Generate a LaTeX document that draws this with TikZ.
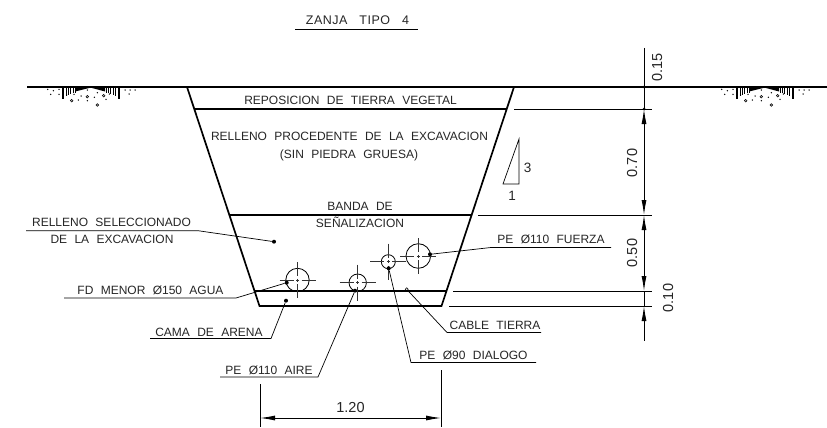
\documentclass[tikz,border=0pt]{standalone}
\usepackage{fontspec}
\setmainfont[WordSpace=2.2]{Liberation Sans}
\newfontfamily\titlefont[LetterSpace=4,WordSpace=3]{Liberation Sans}
\usetikzlibrary{arrows.meta}
\tikzset{
 x=1pt,y=-1pt,
 thickl/.style={line width=1.7pt,black},
 thinl/.style={line width=0.9pt,black},
 hair/.style={line width=0.7pt,black},
 lab/.style={font=\fontsize{12}{14}\selectfont,inner sep=0pt,anchor=base,text=black!85},
 dimlab/.style={font=\fontsize{14.5}{16}\selectfont,inner sep=0pt,anchor=base,text=black!85},
 dimarrow/.style={line width=0.9pt,{Latex[length=15pt,width=5pt]}-{Latex[length=15pt,width=5pt]}},
 dot/.style={circle,fill=black,inner sep=0pt,minimum size=4pt},
 center/.style={line width=0.7pt,black!80},
}
\newcommand{\pipecirc}[4]{% name x y r
 \node[circle,draw,line width=0.8pt,inner sep=0pt,minimum size=#4*2pt] (#1) at (#2,#3) {};
 \draw[center] (#2-18,#3) -- (#2-4,#3) (#2-1.5,#3) -- (#2+1.5,#3) (#2+4,#3) -- (#2+18,#3);
 \draw[center] (#2,#3-18) -- (#2,#3-4) (#2,#3-1.5) -- (#2,#3+1.5) (#2,#3+4) -- (#2,#3+18);
}
\newcommand{\groundsym}[1]{%
 \begin{scope}[shift={(#1,0)}]
 \fill (75,88) -- (89,88) -- (75,91.5) -- cycle;
 \fill (105,88) -- (92,88) -- (105,91.5) -- cycle;
 \foreach \x/\y in {62/99,63.5/99,66/96,68/95,70.5/94,73/93,75/92.5}{\draw[line width=0.6pt] (\x,88) -- (\x,\y);}
 \foreach \x/\y in {119.5/99,118/99,115.5/96,113/95,110.5/94,108/93,106/92.5}{\draw[line width=0.6pt] (\x,88) -- (\x,\y);}
 \foreach \x/\y in {47.7/89.3,53.3/90.7,59/89.3,50.7/94.3,59/94.3,66.7/95,74/94.3,81/96,87.3/90,97.3/92.7,94.3/97.3,87.3/100.7,78.3/100,106/99.3,109.3/94,125/90,130/90,135/90,129/94}{\fill (\x,\y) circle (0.75);}
 \foreach \x/\y in {71.7/100.7,87.3/96.7,103.7/95.7,97.3/105}{\draw[line width=0.6pt] (\x,\y) circle (1.3);}
 \end{scope}
}
\begin{document}
\begin{tikzpicture}
\useasboundingbox (0,0) rectangle (827,428);
\fill[white] (0,0) rectangle (827,428);
% title
\node[lab,font=\fontsize{12.5}{14}\titlefont] (title) at (357.5,24.5) {ZANJA TIPO 4};
\coordinate (tl) at (295,29); \coordinate (tr) at (418,29);
\draw[hair] (tl) -- (tr);
% ground
\coordinate (g1) at (27,87); \coordinate (g2) at (827,87);
\draw[thickl] (g1) -- (g2);
\groundsym{0}
\groundsym{674}
% trench
\coordinate (tA) at (187,87); \coordinate (tB) at (259.5,306); \coordinate (tC) at (441.5,306); \coordinate (tD) at (514,87);
\draw[thickl] (tA) -- (tB) -- (tC) -- (tD);
\draw[thickl] (194,109) -- (507,109);
\draw[thickl] (230,215) -- (471,215);
\draw[thickl] (255,291) -- (446,291);
% extension lines
\draw[thinl] (514,109) -- (652,109);
\draw[thinl] (478,215) -- (652,215);
\draw[thinl] (453,291) -- (652,291);
\draw[thinl] (449,306) -- (652,306);
% dims
\coordinate (d0) at (644,48); \coordinate (d1) at (644,87); \coordinate (d2) at (644,109); \coordinate (d3) at (644,215);
\coordinate (d4) at (644,291); \coordinate (d5) at (644,306); \coordinate (d6) at (644,341);
\draw[thinl] (d0) -- (d2);
\draw[dimarrow] (d2) -- (d3);
\draw[dimarrow] (d3) -- (d4);
\draw[thinl] (d4) -- (d5);
\draw[line width=0.9pt,{Latex[length=15pt,width=5pt]}-] (d5) -- (d6);
\node[dot,minimum size=3pt] (dd1) at (d1) {};
\node[dot,minimum size=3pt] (dd2) at (d2) {};
\node[dimlab,rotate=90] (v015) at (662,67.5) {0.15};
\node[dimlab,rotate=90] (v070) at (637,163) {0.70};
\node[dimlab,rotate=90] (v050) at (637,253) {0.50};
\node[dimlab,rotate=90] (v010) at (673,298) {0.10};
% bottom dimension
\draw[thinl] (260,384) -- (260,427);
\draw[thinl] (441,370) -- (441,427);
\draw[dimarrow] (260,418) -- (441,418);
\node[dimlab] (v120) at (350.5,412) {1.20};
% slope
\coordinate (s1) at (503,184); \coordinate (s2) at (519,184); \coordinate (s3) at (519,139);
\draw[hair] (s1) -- (s2) -- (s3) -- cycle;
\node[lab,font=\fontsize{13.5}{14}\selectfont] (s3t) at (527.5,172.5) {3};
\node[lab,font=\fontsize{13.5}{14}\selectfont] (s1t) at (512,200.5) {1};
% labels in trench
\node[lab] (l1) at (350.5,104) {REPOSICION DE TIERRA VEGETAL};
\node[lab] (l2) at (349.5,140) {RELLENO PROCEDENTE DE LA EXCAVACION};
\node[lab] (l3) at (349,158) {(SIN PIEDRA GRUESA)};
\node[lab] (l4) at (360,210) {BANDA DE};
\node[lab] (l5) at (360,227.5) {SEÑALIZACION};
% pipes
\pipecirc{p1}{297.5}{280}{11.7}
\pipecirc{p2}{357.7}{282.7}{8.7}
\pipecirc{p3}{388.3}{261.7}{7}
\pipecirc{p4}{418.3}{256}{12.3}
% leaders
\node[lab] (r1) at (111.5,226.7) {RELLENO SELECCIONADO};
\node[lab] (r2) at (112,243) {DE LA EXCAVACION};
\node[dot] (e1) at (274,241.7) {};
\coordinate (e1a) at (198,230.7); \coordinate (e1b) at (26,230.7);
\draw[hair] (e1b) -- (e1a) -- (e1);
\node[lab] (r3) at (150.5,294) {FD MENOR Ø150 AGUA};
\node[dot] (e2) at (286.7,282.7) {};
\coordinate (e2a) at (236,298); \coordinate (e2b) at (64,298);
\draw[hair] (e2b) -- (e2a) -- (e2);
\node[lab] (r4) at (209,336) {CAMA DE ARENA};
\node[dot] (e3) at (286,300.7) {};
\coordinate (e3a) at (271,338.5); \coordinate (e3b) at (150,338.5);
\draw[hair] (e3b) -- (e3a) -- (e3);
\node[lab] (r5) at (269,374) {PE Ø110 AIRE};
\node[dot] (e4) at (355,290.7) {};
\coordinate (e4a) at (318,377); \coordinate (e4b) at (220,377);
\draw[hair] (e4b) -- (e4a) -- (e4);
\node[lab] (r6) at (473.5,359) {PE Ø90 DIALOGO};
\node[dot] (e5) at (388.7,268.3) {};
\coordinate (e5a) at (411,362.5); \coordinate (e5b) at (536,362.5);
\draw[hair] (e5b) -- (e5a) -- (e5);
\node[lab] (r7) at (495,329) {CABLE TIERRA};
\node[circle,draw,line width=0.5pt,inner sep=0pt,minimum size=3pt] (e6) at (406.7,289.3) {};
\coordinate (e6a) at (447,332.5); \coordinate (e6b) at (541,332.5);
\draw[hair] (e6b) -- (e6a) -- (e6);
\node[lab] (r8) at (551,243) {PE Ø110 FUERZA};
\node[dot] (e7) at (430,254.3) {};
\coordinate (e7a) at (491,247.5); \coordinate (e7b) at (611,247.5);
\draw[hair] (e7b) -- (e7a) -- (e7);
\end{tikzpicture}
\end{document}
